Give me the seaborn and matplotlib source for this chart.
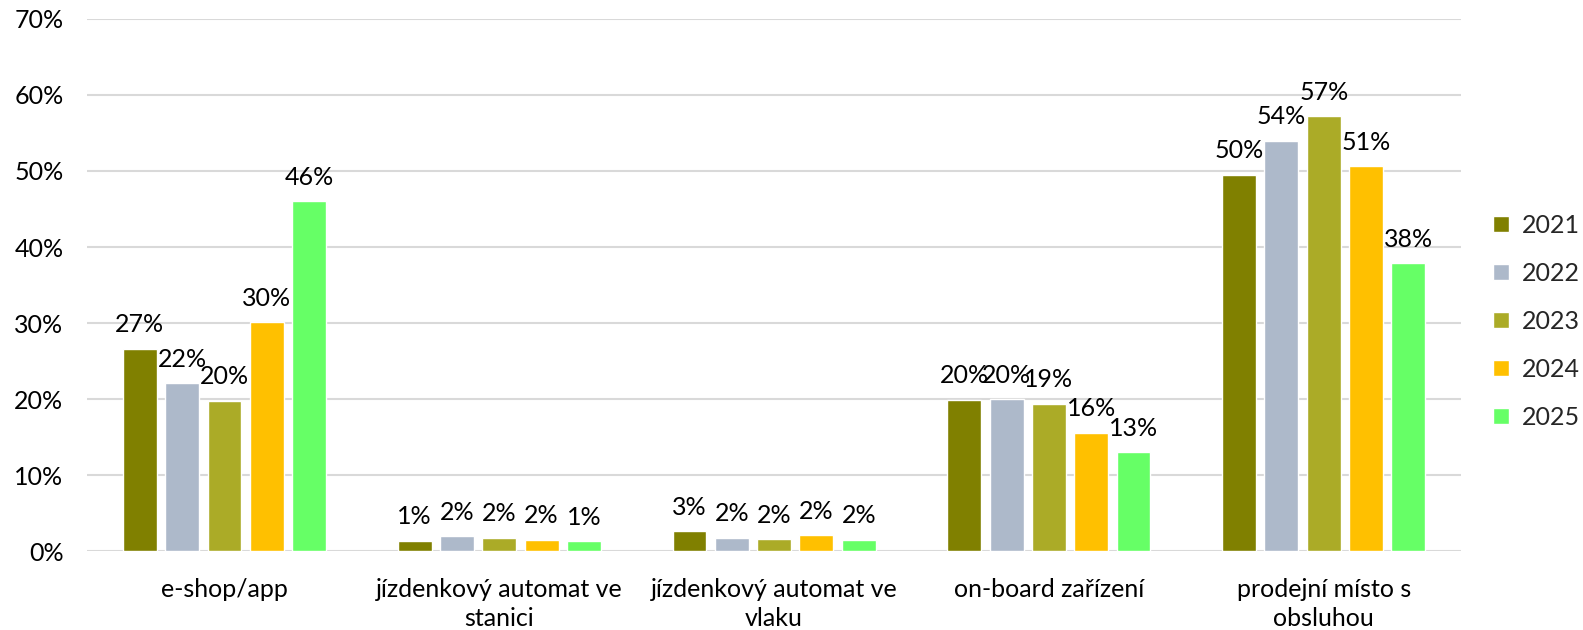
import matplotlib
matplotlib.use("Agg")
import matplotlib.pyplot as plt
import seaborn as sns
import pandas as pd
from matplotlib.ticker import PercentFormatter

categories = ["e-shop/app", "jízdenkový automat ve\nstanici", "jízdenkový automat ve\nvlaku",
              "on-board zařízení", "prodejní místo s\nobsluhou"]
years = ["2021", "2022", "2023", "2024", "2025"]
v2021 = [26.6, 1.4, 2.6, 19.9, 49.5]
v2022 = [22.1, 2.0, 1.8, 20.0, 54.0]
v2023 = [19.8, 1.8, 1.6, 19.4, 57.2]
v2024 = [30.1, 1.5, 2.1, 15.6, 50.6]
v2025 = [46.0, 1.3, 1.5, 13.0, 37.9]
colors = ["#808000", "#ADB9CA", "#ABAB27", "#FFC000", "#66FF66"]

rows = []
for y, vals in zip(years, [v2021, v2022, v2023, v2024, v2025]):
    for c, v in zip(categories, vals):
        rows.append({"cat": c, "year": y, "val": v})
df = pd.DataFrame(rows)

sns.set_theme(style="white")
plt.rcParams["font.family"] = ["Lato", "DejaVu Sans"]

FS = 18

fig = plt.figure(figsize=(15.83, 6.3), dpi=100)
ax = fig.add_axes([0.055, 0.125, 0.868, 0.845])
sns.barplot(data=df, x="cat", y="val", hue="year", palette=colors, order=categories,
            hue_order=years, width=0.77, gap=0.2, ax=ax, legend=True, saturation=1)

ax.set_ylim(0, 70)
ax.set_xlim(-0.5, 4.5)
ax.set_yticks(range(0, 71, 10))
ax.yaxis.set_major_formatter(PercentFormatter(decimals=0))
ax.grid(axis="y", color="#D9D9D9", linewidth=1.5)
ax.set_axisbelow(True)
for s in ax.spines.values():
    s.set_visible(False)
ax.tick_params(axis="both", length=0, labelsize=FS, colors="#000000")
ax.tick_params(axis="y", pad=17)
ax.tick_params(axis="x", pad=19)
for t in ax.get_xticklabels():
    t.set_linespacing(1.35)
ax.set_xlabel("")
ax.set_ylabel("")

for cont in ax.containers:
    ax.bar_label(cont, labels=[f"{v:.0f}%" for v in cont.datavalues], padding=9,
                 fontsize=FS, color="#000000")

h, l = ax.get_legend_handles_labels()
ax.legend_.remove()
fig.legend(h, l, loc="center left", bbox_to_anchor=(0.943, 0.49), frameon=False,
           fontsize=FS, handlelength=0.65, handleheight=0.65, labelspacing=1.0,
           handletextpad=0.5, borderpad=0, borderaxespad=0)

fig.savefig("out.png", dpi=100)
